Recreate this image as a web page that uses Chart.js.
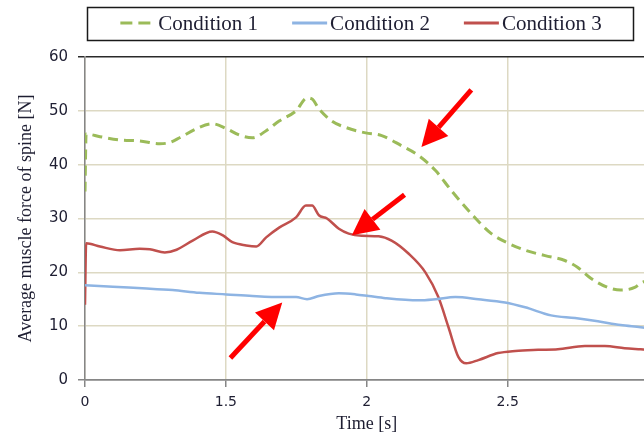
<!DOCTYPE html>
<html>
<head>
<meta charset="utf-8">
<script src="https://cdn.jsdelivr.net/npm/chart.js@4/dist/chart.umd.min.js"></script>
<style>
  html, body { margin: 0; padding: 0; background: #fff; overflow: hidden; width: 644px; height: 434px; }
  canvas { display: block; }
</style>
</head>
<body>
<canvas id="forceChart" width="660" height="434"></canvas>
<script>
// Time axis: starts at the 1 s mark, which is labelled 0
const timeTicks = [1, 1.5, 2, 2.5, 3];
const timeTickLabels = ['0', '1.5', '2', '2.5', '3'];
const seriesNames = ['Condition 1', 'Condition 2', 'Condition 3'];

// Condition 1
const cond1Time  = [1.0, 1.004, 1.053, 1.124, 1.194, 1.265, 1.30, 1.336, 1.396, 1.452, 1.502, 1.548, 1.594, 1.643, 1.689, 1.749, 1.788, 1.806, 1.830, 1.876, 1.926, 1.996, 2.053, 2.124, 2.184, 2.244, 2.300, 2.371, 2.442, 2.502, 2.562, 2.633, 2.703, 2.749, 2.795, 2.855, 2.901, 2.951, 2.972, 3.0];
const cond1Force = [35, 45.7, 45.2, 44.6, 44.4, 43.9, 44.1, 45.0, 46.7, 47.6, 46.7, 45.5, 45.0, 46.3, 48.1, 50.0, 52.4, 52.2, 50.4, 48.1, 46.9, 45.9, 45.4, 43.5, 41.7, 38.9, 35.2, 30.9, 27.2, 25.4, 24.1, 23.1, 22.2, 20.9, 18.9, 17.2, 16.7, 17.2, 18.0, 18.6];

// Condition 2
const cond2Time  = [1.0, 1.099, 1.219, 1.311, 1.406, 1.502, 1.594, 1.700, 1.749, 1.788, 1.830, 1.901, 1.961, 2.007, 2.067, 2.184, 2.244, 2.314, 2.396, 2.491, 2.562, 2.654, 2.739, 2.820, 2.901, 2.972, 3.0];
const cond2Force = [17.6, 17.3, 17.0, 16.7, 16.2, 15.9, 15.6, 15.4, 15.4, 15.0, 15.6, 16.1, 15.9, 15.6, 15.2, 14.8, 15.0, 15.4, 15.0, 14.4, 13.5, 12.0, 11.5, 10.9, 10.2, 9.8, 9.6];

// Condition 3
const cond3Time  = [1.0, 1.004, 1.053, 1.124, 1.194, 1.230, 1.283, 1.325, 1.382, 1.452, 1.488, 1.523, 1.572, 1.608, 1.643, 1.689, 1.749, 1.784, 1.806, 1.830, 1.859, 1.901, 1.936, 1.982, 2.042, 2.088, 2.148, 2.208, 2.254, 2.290, 2.325, 2.353, 2.396, 2.466, 2.527, 2.608, 2.678, 2.774, 2.845, 2.915, 2.972, 3.0];
const cond3Force = [14, 25.4, 24.8, 24.1, 24.4, 24.3, 23.7, 24.2, 25.9, 27.6, 26.9, 25.6, 25.0, 24.8, 26.5, 28.3, 30.2, 32.4, 32.4, 30.6, 30.0, 28.1, 27.2, 26.8, 26.7, 25.9, 23.5, 20.0, 15.4, 9.8, 4.3, 3.1, 3.7, 5.0, 5.4, 5.6, 5.7, 6.3, 6.3, 5.9, 5.7, 5.6];

// Highlight arrows, in axis units: [tailTime, tailForce, tipTime, tipForce]
const arrowMarks = [
  [2.371, 53.9, 2.194, 43.3],
  [2.134, 34.4, 1.947, 26.9],
  [1.516, 4.1, 1.700, 14.4]
];

const toPoints = (xs, ys) => xs.map((x, i) => ({ x, y: ys[i] }));

const GRID = '#ddd9c3';
const AXIS = '#868686';
const TEXT = '#1e1e32';

// Boxed legend across the top
const boxedLegend = {
  id: 'boxedLegend',
  afterDraw(chart) {
    const ctx = chart.ctx;
    ctx.save();
    ctx.strokeStyle = '#1a1a1a';
    ctx.lineWidth = 1.5;
    ctx.strokeRect(87.5, 7.5, 546, 33);
    ctx.font = '21px "Liberation Serif"';
    ctx.textBaseline = 'alphabetic';
    const sample = 35, gap = 3, between = 34;
    const items = chart.data.datasets.map(ds => ({ ds, w: ctx.measureText(ds.label).width }));
    const total = items.reduce((s, it) => s + sample + gap + it.w, 0) + between * (items.length - 1);
    let x = 361 - total / 2;
    const yLine = 23;
    items.forEach(({ ds, w }) => {
      ctx.beginPath();
      ctx.setLineDash(ds.legendDash || []);
      ctx.strokeStyle = ds.borderColor;
      ctx.lineWidth = 3;
      ctx.moveTo(x, yLine);
      ctx.lineTo(x + sample, yLine);
      ctx.stroke();
      ctx.setLineDash([]);
      ctx.fillStyle = TEXT;
      ctx.fillText(ds.label, x + sample + gap, 30);
      x += sample + gap + w + between;
    });
    ctx.restore();
  }
};

// Red pointer arrows placed in data space
const pointerArrows = {
  id: 'pointerArrows',
  afterDatasetsDraw(chart) {
    const { ctx, scales: { x, y } } = chart;
    ctx.save();
    ctx.fillStyle = '#ff0000';
    ctx.strokeStyle = '#ff0000';
    arrowMarks.forEach(([tx, ty, hx, hy]) => {
      const x0 = x.getPixelForValue(tx), y0 = y.getPixelForValue(ty);
      const x1 = x.getPixelForValue(hx), y1 = y.getPixelForValue(hy);
      const ang = Math.atan2(y1 - y0, x1 - x0);
      const headLen = 26, headHalf = 13;
      const bx = x1 - headLen * Math.cos(ang), by = y1 - headLen * Math.sin(ang);
      ctx.lineWidth = 5;
      ctx.lineCap = 'butt';
      ctx.beginPath();
      ctx.moveTo(x0, y0);
      ctx.lineTo(bx, by);
      ctx.stroke();
      ctx.beginPath();
      ctx.moveTo(x1, y1);
      ctx.lineTo(bx + headHalf * Math.sin(ang), by - headHalf * Math.cos(ang));
      ctx.lineTo(bx - headHalf * Math.sin(ang), by + headHalf * Math.cos(ang));
      ctx.closePath();
      ctx.fill();
    });
    ctx.restore();
  }
};

new Chart(document.getElementById('forceChart'), {
  type: 'line',
  data: {
    datasets: [
      {
        label: seriesNames[0],
        data: toPoints(cond1Time, cond1Force),
        borderColor: '#9bbb59',
        borderWidth: 3,
        borderDash: [10, 6],
        legendDash: [12, 6],
        pointRadius: 0,
        cubicInterpolationMode: 'monotone'
      },
      {
        label: seriesNames[1],
        data: toPoints(cond2Time, cond2Force),
        borderColor: '#8eb4e3',
        borderWidth: 2.5,
        pointRadius: 0,
        cubicInterpolationMode: 'monotone'
      },
      {
        label: seriesNames[2],
        data: toPoints(cond3Time, cond3Force),
        borderColor: '#c0504d',
        borderWidth: 2.5,
        pointRadius: 0,
        cubicInterpolationMode: 'monotone'
      }
    ]
  },
  options: {
    responsive: false,
    animation: false,
    devicePixelRatio: 1,
    layout: { padding: { top: 57, right: 10, left: 0, bottom: 0 } },
    plugins: {
      legend: { display: false },
      tooltip: { enabled: false }
    },
    scales: {
      x: {
        type: 'linear',
        min: 1,
        max: 3,
        afterBuildTicks(scale) { scale.ticks = timeTicks.map(v => ({ value: v })); },
        afterFit(scale) { scale.height = 54; },
        ticks: {
          callback: (v) => timeTickLabels[timeTicks.indexOf(v)],
          font: { family: '"DejaVu Sans"', size: 14 },
          color: TEXT,
          padding: 7,
          maxRotation: 0
        },
        grid: {
          color: GRID,
          lineWidth: 1.5,
          tickColor: AXIS,
          tickLength: 7
        },
        border: { color: AXIS, width: 1.5 },
        title: {
          display: true,
          text: 'Time [s]',
          font: { family: '"Liberation Serif"', size: 18, lineHeight: 1.1 },
          color: TEXT,
          padding: { top: 0, bottom: 0 }
        }
      },
      y: {
        min: 0,
        max: 60,
        ticks: {
          stepSize: 10,
          font: { family: '"DejaVu Sans"', size: 15 },
          color: TEXT,
          padding: 10
        },
        afterFit(scale) { scale.width = 85; },
        grid: {
          color: (c) => c.tick.value === 60 ? '#2a2a2a' : (c.tick.value === 0 ? AXIS : GRID),
          tickColor: (c) => c.tick.value === 60 ? '#2a2a2a' : (c.tick.value === 0 ? AXIS : GRID),
          lineWidth: 1.5,
          tickLength: 7
        },
        border: { color: AXIS, width: 1.5 },
        title: {
          display: true,
          text: 'Average muscle force of spine [N]',
          font: { family: '"Liberation Serif"', size: 18 },
          color: TEXT,
          padding: { top: 15, bottom: 0 }
        }
      }
    }
  },
  plugins: [boxedLegend, pointerArrows]
});
</script>
</body>
</html>
